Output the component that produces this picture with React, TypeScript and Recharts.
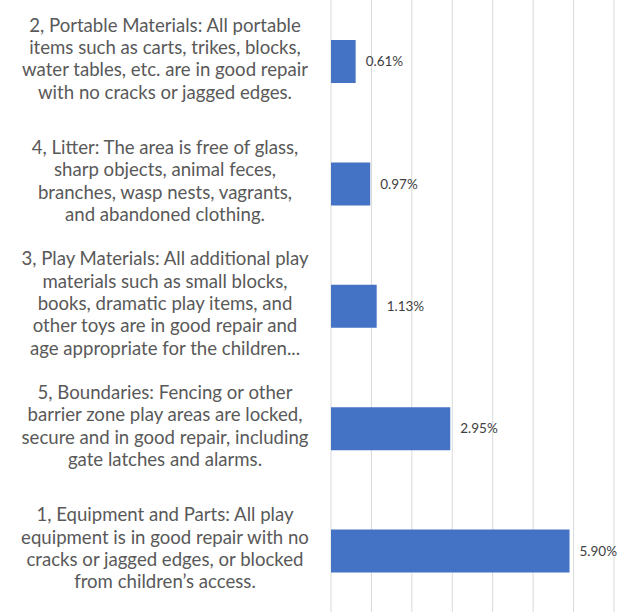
import React from 'react';
import { BarChart, Bar, XAxis, YAxis, CartesianGrid, LabelList } from 'recharts';

// categories top to bottom
const categories = ['Portable Materials', 'Litter', 'Play Materials', 'Boundaries', 'Equipment and Parts'];

const labelLines = [
  ['2, Portable Materials: All portable', 'items such as carts, trikes, blocks,', 'water tables, etc. are in good repair', 'with no cracks or jagged edges.'],
  ['4, Litter: The area is free of glass,', 'sharp objects, animal feces,', 'branches, wasp nests, vagrants,', 'and abandoned clothing.'],
  ['3, Play Materials: All additional play', 'materials such as small blocks,', 'books, dramatic play items, and', 'other toys are in good repair and', 'age appropriate for the children...'],
  ['5, Boundaries: Fencing or other', 'barrier zone play areas are locked,', 'secure and in good repair, including', 'gate latches and alarms.'],
  ['1, Equipment and Parts: All play', 'equipment is in good repair with no', 'cracks or jagged edges, or blocked', 'from children\u2019s access.'],
];

const values = [0.61, 0.97, 1.13, 2.95, 5.9];

const xTicks = [0, 1, 2, 3, 4, 5, 6, 7];

const data = categories.map((c, i) => ({ name: c, value: values[i] }));

const FONT = 'Lato, "Open Sans", sans-serif';

const CategoryTick = (props: any) => {
  const { y, payload } = props;
  const idx = categories.indexOf(payload.value);
  const lines = labelLines[idx] || [];
  const lh = 22.3;
  const startY = y - 3 - ((lines.length - 1) * lh) / 2;
  return (
    <text x={165} y={startY} textAnchor="middle" fill="#595959" fontSize={18.6} fontFamily={FONT} dominantBaseline="central">
      {lines.map((l, i) => (
        <tspan key={i} x={165} y={startY + i * lh}>{l}</tspan>
      ))}
    </text>
  );
};

export default function App() {
  return (
    <div style={{ position: 'absolute', left: 0, top: 0, background: '#fff' }}>
      <BarChart
        width={631}
        height={613}
        data={data}
        layout="vertical"
        margin={{ top: 0, right: 17, bottom: 1, left: 0 }}
      >
        <CartesianGrid horizontal={false} stroke="#d9d9d9" strokeWidth={1} />
        <XAxis
          type="number"
          domain={[0, 7]}
          ticks={xTicks}
          tick={() => <g />}
          axisLine={false}
          tickLine={false}
          height={0}
        />
        <YAxis
          type="category"
          dataKey="name"
          width={331}
          axisLine={false}
          tickLine={false}
          tick={<CategoryTick />}
          interval={0}
        />
        <Bar dataKey="value" fill="#4472c4" barSize={43} isAnimationActive={false}>
          <LabelList
            dataKey="value"
            position="right"
            offset={10}
            formatter={(v: any) => Number(v).toFixed(2) + '%'}
            fill="#404040"
            fontSize={13.5}
            fontFamily={FONT}
          />
        </Bar>
      </BarChart>
    </div>
  );
}
